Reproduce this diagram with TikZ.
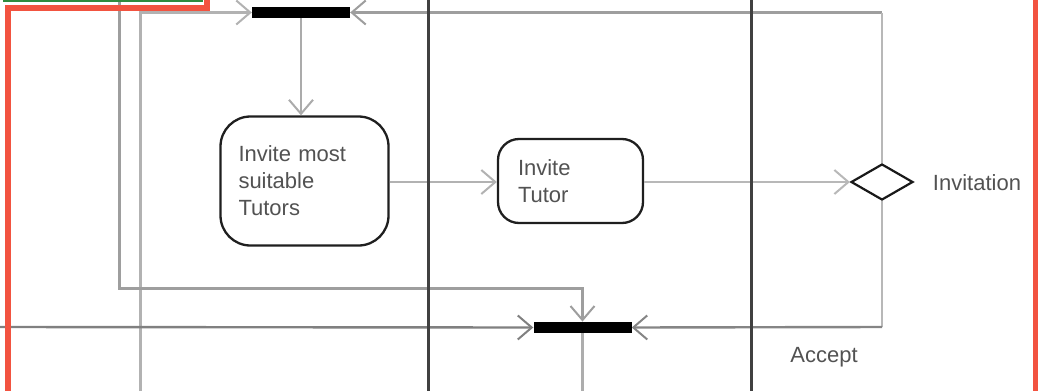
\documentclass[tikz,border=0pt]{standalone}
\usepackage{fontspec}
\setmainfont{Liberation Sans}
\usetikzlibrary{arrows.meta,shapes.geometric}
\definecolor{redframe}{HTML}{F25340}
\definecolor{greenframe}{HTML}{2E8B3E}
\definecolor{lanecol}{HTML}{404040}
\begin{document}
\begin{tikzpicture}[x=1pt,y=-1pt,
  txt/.style={font=\fontsize{22}{27}\selectfont, text=black!68},
  activity/.style={txt, draw=black!88, line width=2.3pt, fill=white, align=left, inner ysep=0pt},
  decision/.style={diamond, draw=black!90, line width=2.2pt, fill=white, inner sep=0pt, minimum width=62pt, minimum height=36pt},
  syncbar/.style={rectangle, fill=black, inner sep=0pt, minimum width=98pt, minimum height=11.5pt},
  conn/.style={line width=2.4pt, -{Straight Barb[length=14pt,width=24pt,line width=2pt]}},
  plainconn/.style={line width=2.4pt},
  lane/.style={draw=lanecol, line width=3.5pt},
  lbl/.style={txt, inner sep=0pt}]
\useasboundingbox (0,0) rectangle (1048,391);

% nodes
\node[syncbar] (fork) at (301,12.5) {};
\node[syncbar] (join) at (582.5,327.5) {};
\node[activity, rounded corners=30pt, text width=132pt, inner xsep=18pt, minimum height=129pt] (ims) at (304.5,181) {Invite most\\suitable\\Tutors\\[3pt]};
\node[activity, rounded corners=21pt, text width=105pt, inner xsep=20pt, minimum height=84pt] (it) at (570.5,181) {Invite\\Tutor};
\node[decision] (dec) at (882,182) {};
\node[lbl] (invlabel) at (977,183) {Invitation};
\node[lbl] (acclabel) at (824,357) {Accept};

% free ends
\coordinate (c140b) at (140.5,391);
\coordinate (c140t) at (140.5,12.5);
\coordinate (c120t) at (119.5,0);
\coordinate (c120b) at (119.5,288.5);
\coordinate (c582m) at (582.5,288.5);
\coordinate (left327) at (0,327);
\coordinate (dectop) at (882,12.5);
\coordinate (decbot) at (882,327);
\coordinate (joinbot) at (582.5,391);
\coordinate (row) at (0,182);

% connectors
\draw[conn, draw=black!30] (c140b) -- (c140t) -- (fork.west);
\draw[conn, draw=black!38] (dectop) -- (fork.east);
\draw[plainconn, draw=black!28] (dec.north) -- (dectop);
\draw[conn, draw=black!33] (fork.south) -- (fork.south |- ims.north);
\draw[conn, draw=black!30] (ims.east |- row) -- (it.west |- row);
\draw[conn, draw=black!28] (it.east |- row) -- (dec.west);
\draw[plainconn, draw=black!28] (dec.south) -- (decbot);
\draw[conn, draw=black!48] (decbot) -- (join.east);
\draw[conn, draw=black!50] (left327) -- (join.west);
\draw[conn, draw=black!38] (c120t) -- (c120b) -- (c582m) -- (join.north);
\draw[plainconn, draw=black!32] (join.south) -- (joinbot);

% swimlane separators
\draw[lane] (428.5,0) -- (428.5,391);
\draw[lane] (751.5,0) -- (751.5,391);

% redraw nodes on top of lanes where needed
\node[syncbar] at (fork) {};
\node[syncbar] at (join) {};

% highlight frame
\draw[greenframe, line width=1.8pt] (3,0.9) -- (203,0.9);
\draw[redframe, line width=6pt, line join=miter] (206.5,0) -- (206.5,8.3) -- (8,8.3) -- (8,391);
\draw[redframe, line width=5pt] (1035,0) -- (1035,391);
\end{tikzpicture}
\end{document}
